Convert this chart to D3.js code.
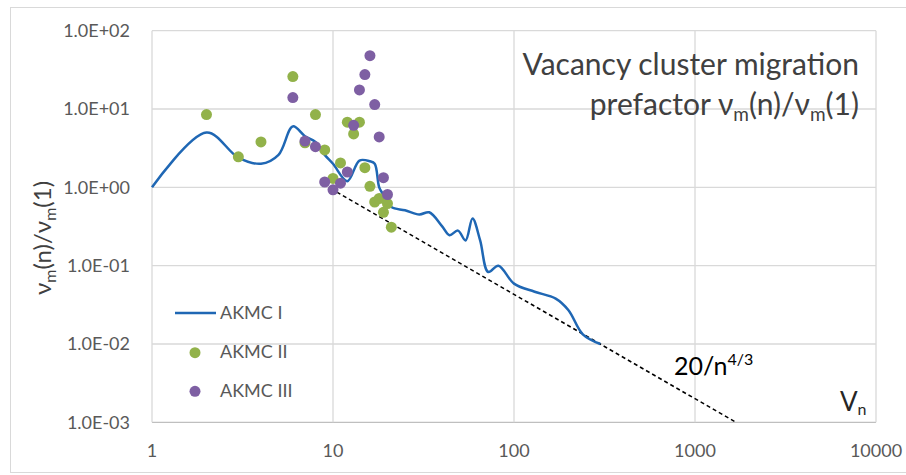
<!DOCTYPE html>
<html>
<head>
<meta charset="utf-8">
<script src="https://cdn.jsdelivr.net/npm/d3@7"></script>
<style>
    body { margin: 0; background: #fff; }
    text { font-family: Lato, "Open Sans", sans-serif; }
</style>
</head>
<body>
<div id="chart"></div>
<script>
// AKMC I - smooth line
var akmc1N = [1, 2, 3, 4, 5, 6, 7, 8, 9, 10, 12, 14, 16, 17, 18, 19, 21, 25, 30, 34, 40, 44, 49, 54, 59, 65, 72, 82, 100, 130, 170, 200, 240, 300];
var akmc1V = [1, 5, 2.4, 2.0, 2.6, 6, 4.5, 3.8, 2.6, 2.0, 1.2, 2.2, 2.15, 2.0, 1.0, 0.8, 0.56, 0.51, 0.45, 0.48, 0.32, 0.245, 0.28, 0.21, 0.40, 0.21, 0.083, 0.10, 0.059, 0.0465, 0.038, 0.027, 0.0133, 0.010];

// AKMC II - green dots
var akmc2N = [2, 3, 4, 6, 7, 8, 9, 10, 11, 12, 13, 14, 15, 16, 17, 18, 19, 20, 21];
var akmc2V = [8.5, 2.45, 3.8, 26, 3.7, 8.5, 3.0, 1.3, 2.05, 6.8, 4.8, 6.8, 1.78, 1.03, 0.65, 0.72, 0.48, 0.62, 0.31];

// AKMC III - purple dots
var akmc3N = [6, 7, 8, 9, 10, 11, 12, 13, 14, 15, 16, 17, 18, 19, 20];
var akmc3V = [14, 3.9, 3.3, 1.17, 0.93, 1.13, 1.57, 6.2, 17.5, 27.5, 48, 11.4, 4.4, 1.33, 0.81];

// 20/n^(4/3) reference line end points
var fitN = [10.5, 1681];

var xTicks = [1, 10, 100, 1000, 10000];
var yTicks = [1e-3, 1e-2, 1e-1, 1, 10, 100];

var W = 906, H = 475;
var plot = {left: 152, right: 876, top: 30.7, bottom: 422.3};

var svg = d3.select("#chart").append("svg")
    .attr("width", W)
    .attr("height", H);

// outer chart border
svg.append("rect")
    .attr("x", 10.5).attr("y", 7.5)
    .attr("width", 898).attr("height", 465)
    .attr("fill", "none")
    .attr("stroke", "#d9d9d9");

var x = d3.scaleLog().domain([1, 10000]).range([plot.left, plot.right]);
var y = d3.scaleLog().domain([1e-3, 100]).range([plot.bottom, plot.top]);

// grid
svg.append("g").selectAll("line")
    .data(yTicks).enter().append("line")
    .attr("x1", plot.left).attr("x2", plot.right)
    .attr("y1", function (d) { return y(d); })
    .attr("y2", function (d) { return y(d); })
    .attr("stroke", function (d) { return d === 1e-3 ? "#bfbfbf" : "#d9d9d9"; })
    .attr("stroke-width", 1.3);

svg.append("g").selectAll("line")
    .data(xTicks).enter().append("line")
    .attr("y1", plot.top).attr("y2", plot.bottom)
    .attr("x1", function (d) { return x(d); })
    .attr("x2", function (d) { return x(d); })
    .attr("stroke", "#d9d9d9")
    .attr("stroke-width", 1.3);

// tick labels
function sci(v) {
    var e = Math.round(Math.log10(v));
    var s = Math.abs(e) < 10 ? "0" + Math.abs(e) : "" + Math.abs(e);
    return "1.0E" + (e < 0 ? "-" : "+") + s;
}

svg.append("g").selectAll("text")
    .data(yTicks).enter().append("text")
    .attr("x", 130)
    .attr("y", function (d) { return y(d); })
    .attr("dy", "0.35em")
    .attr("text-anchor", "end")
    .style("font-size", "18px")
    .style("fill", "#595959")
    .text(sci);

svg.append("g").selectAll("text")
    .data(xTicks).enter().append("text")
    .attr("x", function (d) { return x(d); })
    .attr("y", 451)
    .attr("dy", "0.35em")
    .attr("text-anchor", "middle")
    .style("font-size", "18px")
    .style("fill", "#595959")
    .text(function (d) { return d; });

// dashed 20/n^4/3
svg.append("path")
    .datum(fitN)
    .attr("d", d3.line()
        .x(function (d) { return x(d); })
        .y(function (d) { return y(20 / Math.pow(d, 4 / 3)); }))
    .attr("fill", "none")
    .attr("stroke", "#000")
    .attr("stroke-width", 1.5)
    .attr("stroke-dasharray", "4,3");

// AKMC I line
var line1 = akmc1N.map(function (n, i) { return [n, akmc1V[i]]; });
svg.append("path")
    .datum(line1)
    .attr("d", d3.line()
        .curve(d3.curveCatmullRom.alpha(0.5))
        .x(function (d) { return x(d[0]); })
        .y(function (d) { return y(d[1]); }))
    .attr("fill", "none")
    .attr("stroke", "#1f67b4")
    .attr("stroke-width", 2.5);

var green = "#92b24a", purple = "#7e5fa3";

svg.append("g").selectAll("circle")
    .data(akmc2N).enter().append("circle")
    .attr("cx", function (d) { return x(d); })
    .attr("cy", function (d, i) { return y(akmc2V[i]); })
    .attr("r", 5.5)
    .attr("fill", green);

svg.append("g").selectAll("circle")
    .data(akmc3N).enter().append("circle")
    .attr("cx", function (d) { return x(d); })
    .attr("cy", function (d, i) { return y(akmc3V[i]); })
    .attr("r", 5.5)
    .attr("fill", purple);

// legend
svg.append("line")
    .attr("x1", 175).attr("x2", 216)
    .attr("y1", 313).attr("y2", 313)
    .attr("stroke", "#1f67b4").attr("stroke-width", 2.5);
svg.append("circle").attr("cx", 195).attr("cy", 352.7).attr("r", 5.5).attr("fill", green);
svg.append("circle").attr("cx", 195).attr("cy", 391.3).attr("r", 5.5).attr("fill", purple);

var legendNames = ["AKMC I", "AKMC II", "AKMC III"];
svg.append("g").selectAll("text")
    .data(legendNames).enter().append("text")
    .attr("x", 220)
    .attr("y", function (d, i) { return 313 + i * 39; })
    .attr("dy", "0.35em")
    .style("font-size", "18px")
    .style("fill", "#595959")
    .text(function (d) { return d; });

// title
var title = svg.append("text")
    .attr("text-anchor", "end")
    .style("font-size", "30px")
    .style("fill", "#404040");
title.append("tspan").attr("x", 859).attr("y", 75).text("Vacancy cluster migration");
var t2 = svg.append("text")
    .attr("x", 859).attr("y", 115)
    .attr("text-anchor", "end")
    .style("font-size", "30px")
    .style("fill", "#404040");
t2.append("tspan").text("prefactor ν");
t2.append("tspan").attr("dy", 6).style("font-size", "19px").text("m");
t2.append("tspan").attr("dy", -6).text("(n)/ν");
t2.append("tspan").attr("dy", 6).style("font-size", "19px").text("m");
t2.append("tspan").attr("dy", -6).text("(1)");

// y axis title
var yt = svg.append("text")
    .attr("transform", "translate(51,238) rotate(-90)")
    .attr("text-anchor", "middle")
    .style("font-size", "24px")
    .style("fill", "#404040");
yt.append("tspan").text("ν");
yt.append("tspan").attr("dy", 5).style("font-size", "16px").text("m");
yt.append("tspan").attr("dy", -5).text("(n)/ν");
yt.append("tspan").attr("dy", 5).style("font-size", "16px").text("m");
yt.append("tspan").attr("dy", -5).text("(1)");

// fit label
var fl = svg.append("text")
    .attr("x", 674).attr("y", 375)
    .style("font-size", "25px")
    .style("fill", "#000");
fl.append("tspan").text("20/n");
fl.append("tspan").attr("dy", -10).style("font-size", "16px").text("4/3");

// x axis label
var xl = svg.append("text")
    .attr("x", 840).attr("y", 411)
    .style("font-size", "26px")
    .style("fill", "#262626");
xl.append("tspan").text("V");
xl.append("tspan").attr("dy", 4).style("font-size", "16px").text("n");
</script>
</body>
</html>
